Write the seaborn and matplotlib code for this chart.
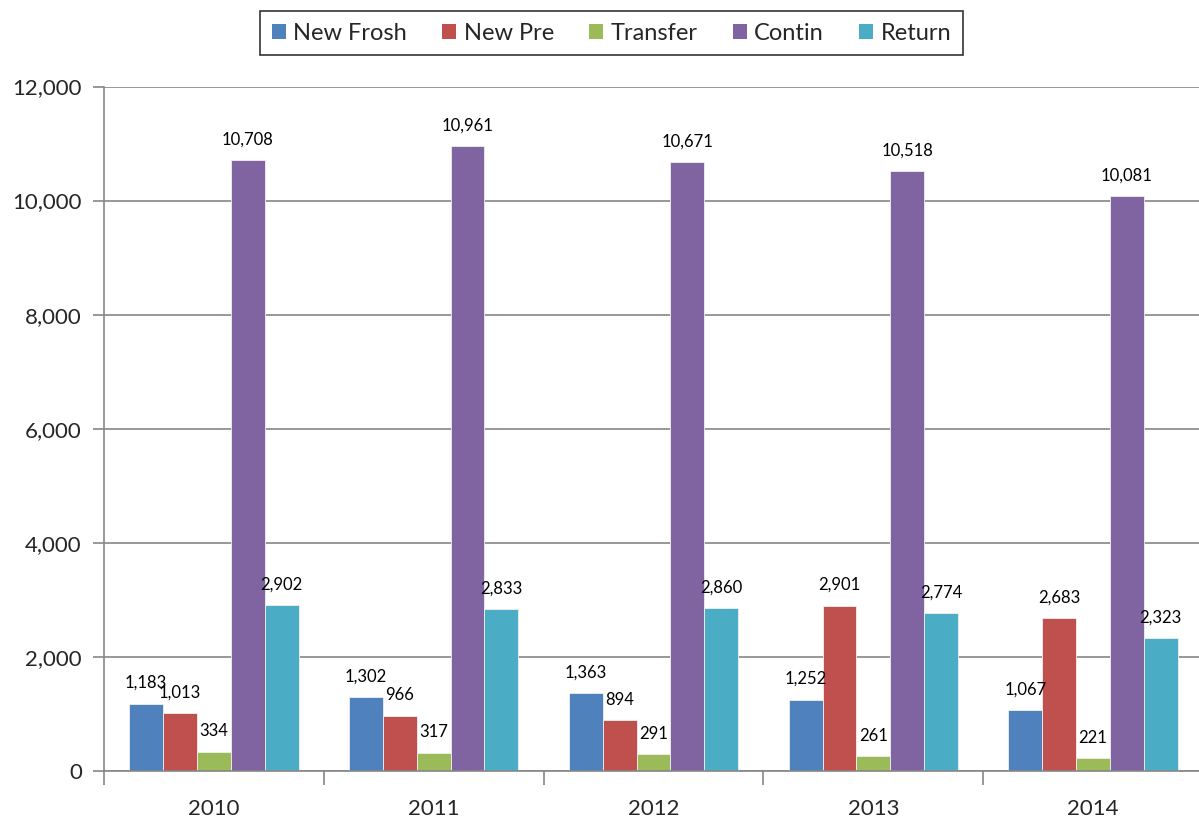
import matplotlib
matplotlib.use("Agg")
import matplotlib.pyplot as plt
import matplotlib.patches as mpatches
from matplotlib.ticker import FuncFormatter, MultipleLocator, FixedLocator
import seaborn as sns
import pandas as pd

years = ["2010", "2011", "2012", "2013", "2014"]
series = ["New Frosh", "New Pre", "Transfer", "Contin", "Return"]
new_frosh = [1183, 1302, 1363, 1252, 1067]
new_pre = [1013, 966, 894, 2901, 2683]
transfer = [334, 317, 291, 261, 221]
contin = [10708, 10961, 10671, 10518, 10081]
ret = [2902, 2833, 2860, 2774, 2323]
colors = ["#4F81BD", "#C0504D", "#9BBB59", "#8064A2", "#4BACC6"]

values = [new_frosh, new_pre, transfer, contin, ret]
rows = []
for s, vals in zip(series, values):
    for y, v in zip(years, vals):
        rows.append({"year": y, "series": s, "value": v})
df = pd.DataFrame(rows)

sns.set_style("white")
plt.rcParams["font.family"] = ["Lato", "DejaVu Sans"]

fig = plt.figure(figsize=(11.99, 8.19), dpi=100)
ax = fig.add_axes([104 / 1199, 48 / 819, 1099 / 1199, 684.5 / 819])

sns.barplot(data=df, x="year", y="value", hue="series", hue_order=series,
            order=years, palette=colors, saturation=1, ax=ax, legend=False,
            edgecolor="#f0f0f0", linewidth=0.6, errorbar=None, width=0.77)

for cont in ax.containers:
    ax.bar_label(cont, labels=[f"{int(b.get_height()):,}" for b in cont],
                 padding=9, fontsize=12, color="black")

ax.set_ylim(0, 12000)
ax.set_xlim(-0.5, 4.5)
ax.yaxis.set_major_locator(MultipleLocator(2000))
ax.yaxis.set_major_formatter(FuncFormatter(lambda v, p: f"{int(v):,}"))
ax.grid(axis="y", color="#868686", linewidth=1.2)
ax.set_axisbelow(True)

for side in ["top", "right"]:
    ax.spines[side].set_visible(False)
for side in ["left", "bottom"]:
    ax.spines[side].set_color("#868686")
    ax.spines[side].set_linewidth(1.2)

ax.tick_params(axis="y", which="major", length=8, width=1.2, color="#868686",
               direction="out", labelsize=16, pad=8, left=True)
ax.tick_params(axis="x", which="major", length=0, labelsize=16, pad=20)
ax.xaxis.set_minor_locator(FixedLocator([-0.5, 0.5, 1.5, 2.5, 3.5, 4.5]))
ax.tick_params(axis="x", which="minor", length=10, width=1.2, color="#868686",
               direction="out", bottom=True)
ax.set_xlabel("")
ax.set_ylabel("")

handles = [mpatches.Patch(facecolor=c, edgecolor="none") for c in colors]
leg = fig.legend(handles, series, loc="center", bbox_to_anchor=(611.5 / 1199, 1 - 33 / 819),
                 ncol=5, frameon=True, fancybox=False, fontsize=17,
                 handlelength=0.6, handleheight=0.6, handletextpad=0.3,
                 columnspacing=1.5, borderpad=0.5, edgecolor="black")
leg.get_frame().set_linewidth(1.2)

fig.savefig("out.png", dpi=100)
